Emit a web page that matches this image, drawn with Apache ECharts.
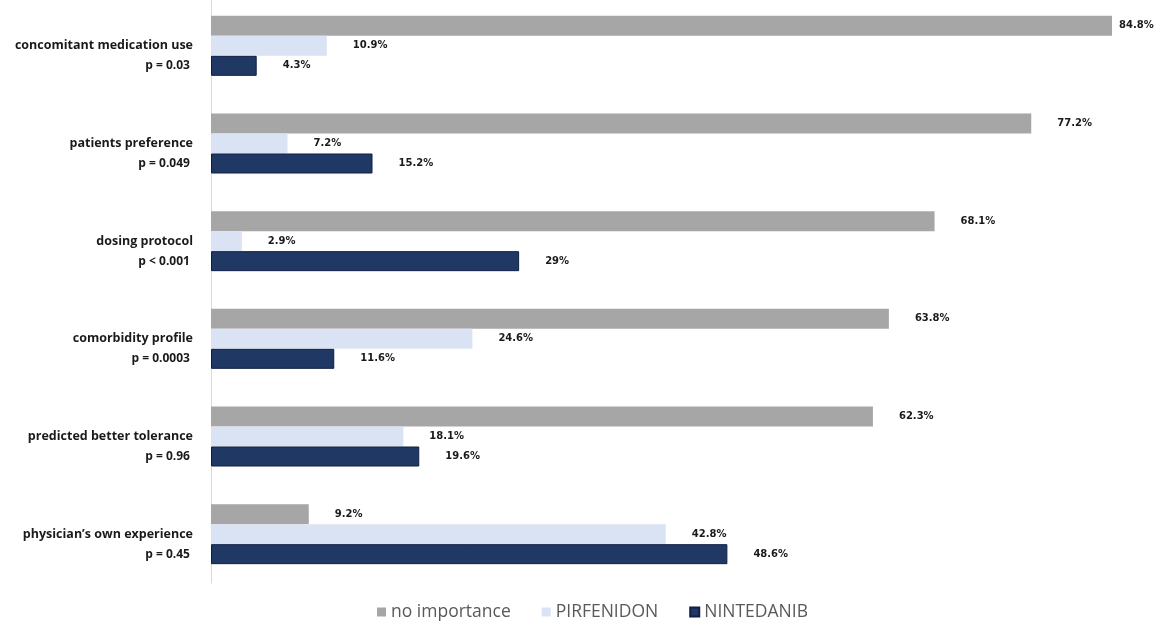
<!DOCTYPE html>
<html>
<head>
<meta charset="utf-8">
<script src="https://cdn.jsdelivr.net/npm/echarts@6/dist/echarts.min.js"></script>
<style>
html,body{margin:0;padding:0;background:#fff;overflow:hidden;}
#chart{position:absolute;left:0;top:-4px;width:1155px;height:625px;}
</style>
</head>
<body>
<div id="chart"></div>
<script>
const categories = [
  "concomitant medication use",
  "patients preference",
  "dosing protocol",
  "comorbidity profile",
  "predicted better tolerance",
  "physician\u2019s own experience"
];
const pValues = ["p = 0.03", "p = 0.049", "p < 0.001", "p = 0.0003", "p = 0.96", "p = 0.45"];
const seriesNames = ["no importance", "PIRFENIDON", "NINTEDANIB"];
const noImportance = [84.8, 77.2, 68.1, 63.8, 62.3, 9.2];
const pirfenidon = [10.9, 7.2, 2.9, 24.6, 18.1, 42.8];
const nintedanib = [4.3, 15.2, 29, 11.6, 19.6, 48.6];

const colors = ["#a6a6a6", "#dae3f3", "#203864"];
const borders = ["#a6a6a6", "#dae3f3", "#0f1f45"];

const labelFont = {
  fontFamily: "DejaVu Sans",
  fontWeight: "bold",
  fontSize: 10,
  color: "#1a1a1a"
};

function makeSeries(name, values, idx) {
  return {
    name: name,
    type: "bar",
    barWidth: 20,
    barGap: "0%",
    itemStyle: { color: colors[idx], borderColor: borders[idx], borderWidth: idx === 2 ? 1 : 0 },
    data: values.map(function (v) {
      return {
        value: v,
        label: { distance: v > 80 ? 7 : 26 }
      };
    }),
    label: Object.assign({
      show: true,
      position: "right",
      formatter: function (p) { return p.value + "%"; }
    }, labelFont)
  };
}

const chart = echarts.init(document.getElementById("chart"), null, { renderer: "canvas" });
chart.setOption({
  animation: false,
  backgroundColor: "#ffffff",
  grid: { left: 211, top: 1, width: 935, height: 586, containLabel: false },
  xAxis: {
    type: "value",
    min: 0,
    max: 88,
    show: false
  },
  yAxis: {
    type: "category",
    inverse: true,
    data: categories,
    axisLine: { show: true, lineStyle: { color: "#d9d9d9", width: 1 } },
    axisTick: { show: false },
    axisLabel: {
      margin: 18,
      align: "right",
      verticalAlign: "middle",
      padding: [20, 0, 0, 0],
      formatter: function (v, i) { return "{n|" + v + "}\n{p|" + pValues[i] + " }"; },
      rich: {
        n: { fontFamily: "Open Sans", fontWeight: "bold", fontSize: 12.5, color: "#1a1a1a", lineHeight: 20, align: "right" },
        p: { fontFamily: "Open Sans", fontWeight: "bold", fontSize: 12, color: "#1a1a1a", lineHeight: 20, align: "right" }
      }
    }
  },
  legend: {
    bottom: -5,
    left: 372,
    icon: "rect",
    itemWidth: 9,
    itemHeight: 9,
    itemGap: 31,
    textStyle: { fontFamily: "Open Sans", fontSize: 17.5, color: "#595959" },
    data: seriesNames
  },
  series: [
    makeSeries(seriesNames[0], noImportance, 0),
    makeSeries(seriesNames[1], pirfenidon, 1),
    makeSeries(seriesNames[2], nintedanib, 2)
  ]
});
</script>
</body>
</html>
